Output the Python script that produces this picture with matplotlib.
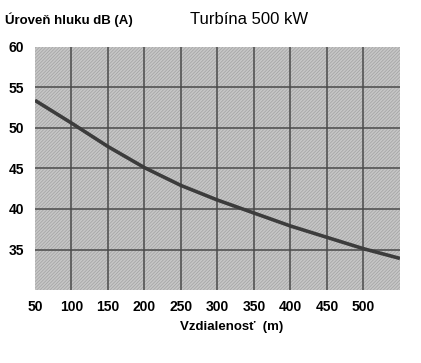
import numpy as np
import matplotlib
matplotlib.use("Agg")
import matplotlib.pyplot as plt
from matplotlib.patches import Rectangle

# values
distance = [50, 100, 150, 200, 250, 300, 350, 400, 450, 500, 550]
noise_db = [53.4, 50.6, 47.7, 45.1, 42.9, 41.1, 39.5, 37.9, 36.5, 35.1, 33.9]

x_ticks = [50, 100, 150, 200, 250, 300, 350, 400, 450, 500]
y_ticks = [35, 40, 45, 50, 55, 60]

plt.rcParams['font.family'] = ['Liberation Sans', 'DejaVu Sans']
plt.rcParams['hatch.linewidth'] = 0.5

fig = plt.figure(figsize=(4.21, 3.63), dpi=100)
ax = fig.add_axes([0.083, 0.201, 0.867, 0.670])

ax.set_xlim(50, 550)
ax.set_ylim(30, 60)

# hatched grey background
bg = Rectangle((0, 0), 1, 1, transform=ax.transAxes, facecolor='#c6c6c6',
               edgecolor='#a2a2a2', hatch='/' * 10, lw=0, zorder=0)
ax.add_patch(bg)

for xv in x_ticks[1:]:
    ax.axvline(xv, color='#4a4a4a', lw=1.1, zorder=1)
for yv in y_ticks[:-1]:
    ax.axhline(yv, color='#4a4a4a', lw=1.1, zorder=1)

ax.plot(distance, noise_db, color='#3c3c3c', lw=2.6, zorder=3,
        solid_capstyle='butt')

for s in ax.spines.values():
    s.set_visible(False)

ax.set_xticks(x_ticks)
ax.set_xticklabels([str(v) for v in x_ticks])
ax.set_yticks(y_ticks)
ax.set_yticklabels([str(v) for v in y_ticks])
ax.tick_params(length=0, labelsize=10, colors='black')
ax.tick_params(axis='x', pad=7)
ax.tick_params(axis='y', pad=8)
for lab in ax.get_xticklabels() + ax.get_yticklabels():
    lab.set_fontweight('bold')

fig.text(5 / 421, 1 - 20 / 363, 'Úroveň hluku dB (A)', fontsize=9.5,
         fontweight='bold', ha='left', va='center')
fig.text(190 / 421, 1 - 20 / 363, 'Turbína 500 kW', fontsize=12,
         ha='left', va='center')
fig.text(232 / 421, 1 - 327 / 363, 'Vzdialenosť  (m)', fontsize=9.5,
         fontweight='bold', ha='center', va='center')

fig.savefig('out.png', dpi=100, facecolor='white')
